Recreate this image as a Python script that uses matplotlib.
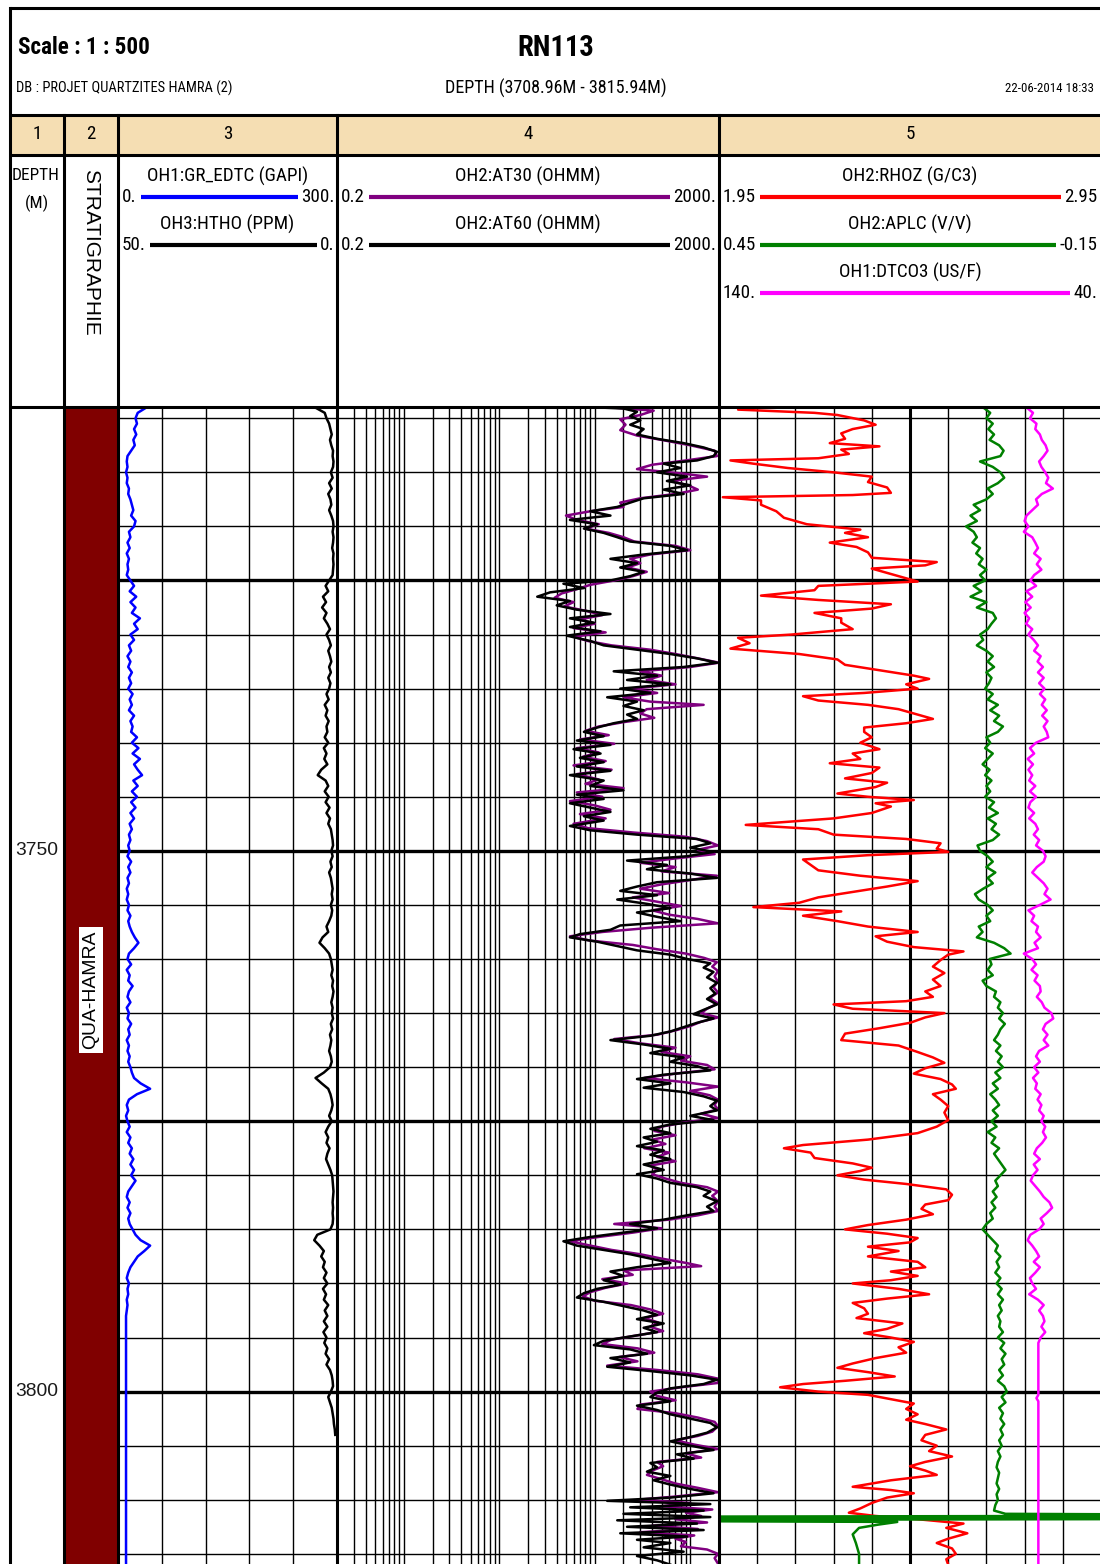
import os
import numpy as np
import matplotlib.pyplot as plt
from matplotlib import font_manager as fm
from matplotlib.font_manager import FontProperties

plt.rcParams['font.family'] = ['Liberation Sans', 'DejaVu Sans']

W, H = 1100, 1564
TOP_MD, BASE_MD = 3708.96, 3815.94
Y_BODY = 407

# GR (GAPI) and HTHO (PPM) every 0.5 m from 3709 m
gr_vals = [
    39, 27, 24, 26, 22, 25, 21, 23, 18, 13,
    12, 13, 11, 13, 12, 15, 14, 17, 19, 21,
    18, 24, 22, 15, 17, 13, 16, 12, 15, 13,
    14, 12, 17, 22, 16, 25, 17, 24, 19, 30,
    22, 27, 17, 22, 15, 18, 13, 17, 14, 19,
    15, 18, 14, 20, 16, 19, 15, 22, 17, 20,
    18, 26, 19, 28, 20, 30, 22, 27, 33, 21,
    27, 19, 26, 18, 24, 17, 22, 16, 19, 15,
    17, 14, 16, 13, 18, 14, 17, 13, 15, 12,
    14, 12, 15, 13, 17, 14, 16, 19, 23, 28,
    22, 15, 13, 18, 12, 16, 14, 20, 15, 13,
    17, 12, 15, 13, 18, 14, 16, 12, 15, 13,
    16, 14, 17, 19, 22, 31, 44, 26, 15, 12,
    14, 11, 13, 16, 12, 17, 14, 19, 16, 21,
    17, 22, 18, 24, 19, 14, 12, 16, 13, 17,
    14, 16, 20, 24, 31, 44, 36, 27, 22, 17,
    14, 12, 15, 13, 14, 12, 13, 12, 11, 11,
]
gr_tail = (3816.0, 11)

htho_vals = [
    5.0, 2.8, 2.4, 1.8, 1.5, 1.2, 1.6, 1.3, 0.9, 1.0,
    0.8, 0.9, 1.4, 1.0, 1.8, 1.2, 2.0, 1.5, 1.3, 1.8,
    1.3, 0.9, 0.8, 1.0, 0.8, 0.9, 1.1, 0.8, 0.9, 0.8,
    0.9, 1.0, 1.8, 2.6, 2.0, 3.2, 2.5, 3.4, 2.4, 3.0,
    2.2, 1.6, 2.4, 1.8, 1.4, 2.0, 1.6, 1.3, 1.8, 1.4,
    2.0, 1.5, 1.8, 2.4, 1.9, 2.8, 2.2, 2.6, 1.9, 2.4,
    2.2, 2.8, 2.0, 3.0, 2.4, 2.9, 2.2, 3.6, 4.4, 2.6,
    2.0, 2.8, 1.9, 2.6, 1.7, 2.4, 1.6, 2.0, 1.4, 1.2,
    1.0, 0.9, 1.3, 1.0, 1.5, 1.2, 1.8, 1.4, 1.2, 1.0,
    1.2, 1.0, 1.4, 1.1, 1.3, 1.8, 2.4, 2.0, 3.3, 4.0,
    2.8, 1.8, 1.4, 1.2, 1.0, 1.3, 0.9, 1.1, 0.8, 1.0,
    1.3, 1.0, 1.2, 0.9, 1.4, 1.1, 1.6, 1.3, 1.5, 1.8,
    1.4, 1.2, 1.6, 3.0, 4.9, 3.5, 2.0, 1.5, 1.2, 1.0,
    1.3, 1.8, 1.2, 2.0, 2.6, 2.0, 2.4, 1.7, 2.2, 2.5,
    2.0, 1.5, 1.1, 1.0, 0.9, 0.8, 0.9, 1.0, 0.9, 1.0,
    0.9, 1.0, 1.5, 4.5, 5.2, 4.0, 3.0, 3.6, 2.8, 3.2,
    2.4, 3.0, 2.2, 3.2, 2.5, 3.0, 2.0, 2.8, 2.2, 3.0,
    2.2, 3.1, 2.4, 2.9, 2.2, 2.6, 1.8, 2.4, 1.6, 1.2,
    1.0, 0.9, 1.4, 2.0, 1.6, 1.2, 1.0, 0.8, 0.7, 0.5,
    0.4,
]

# AT60 / AT30 (OHMM): (depth, value)
at60_log = [
    (3709.0, 106), (3709.1, 200), (3709.4, 277), (3709.8, 235), (3710.2, 300), (3710.6, 235),
    (3711.0, 325), (3711.5, 277), (3711.9, 449), (3712.3, 853), (3712.7, 1381), (3713.1, 1905),
    (3713.5, 1750), (3713.9, 1177), (3714.2, 527), (3714.6, 790), (3715.0, 449), (3715.4, 925),
    (3715.8, 570), (3716.2, 1002), (3716.6, 527), (3717.0, 853), (3717.4, 325), (3717.8, 235),
    (3718.2, 172), (3718.6, 90), (3719.0, 146), (3719.4, 55), (3719.8, 106), (3720.2, 77),
    (3720.6, 124), (3721.0, 172), (3721.4, 235), (3721.8, 619), (3722.2, 925), (3722.6, 325),
    (3723.0, 146), (3723.4, 277), (3723.8, 185), (3724.2, 325), (3724.6, 235), (3725.0, 146),
    (3725.3, 47), (3725.7, 77), (3726.1, 34), (3726.5, 25), (3726.9, 55), (3727.3, 40),
    (3727.7, 65), (3728.1, 146), (3728.5, 55), (3728.9, 98), (3729.3, 55), (3729.7, 115),
    (3730.1, 51), (3730.6, 90), (3731.0, 124), (3731.4, 277), (3731.8, 619), (3732.2, 1177),
    (3732.6, 1905), (3733.0, 853), (3733.4, 158), (3733.8, 449), (3734.2, 218), (3734.6, 619),
    (3735.0, 185), (3735.4, 382), (3735.8, 135), (3736.2, 277), (3736.6, 200), (3737.0, 325),
    (3737.4, 218), (3737.8, 277), (3738.2, 158), (3738.6, 106), (3739.0, 77), (3739.4, 124),
    (3739.8, 65), (3740.2, 146), (3740.6, 60), (3741.0, 115), (3741.4, 70), (3741.8, 124),
    (3742.2, 65), (3742.6, 146), (3743.0, 55), (3743.5, 124), (3744.0, 90), (3744.4, 200),
    (3744.8, 65), (3745.2, 124), (3745.6, 55), (3746.0, 90), (3746.4, 146), (3746.8, 77),
    (3747.2, 124), (3747.7, 55), (3748.1, 90), (3748.5, 277), (3748.9, 1177), (3749.3, 1622),
    (3749.7, 1002), (3750.1, 1750), (3750.5, 925), (3750.9, 218), (3751.3, 570), (3751.7, 352),
    (3752.1, 1002), (3752.5, 1905), (3752.9, 449), (3753.3, 277), (3753.7, 185), (3754.1, 449),
    (3754.5, 172), (3754.9, 352), (3755.3, 619), (3755.7, 277), (3756.1, 449), (3756.5, 790),
    (3756.9, 185), (3757.3, 146), (3757.7, 70), (3758.0, 55), (3758.4, 106), (3758.8, 172),
    (3759.2, 277), (3759.6, 619), (3760.0, 925), (3760.4, 1622), (3760.8, 1381), (3761.2, 1750),
    (3761.7, 1500), (3762.2, 1905), (3762.7, 1622), (3763.2, 1830), (3763.7, 1500), (3764.2, 1905),
    (3764.7, 1381), (3765.1, 1085), (3765.5, 1750), (3765.9, 1177), (3766.3, 853), (3766.7, 619),
    (3767.1, 382), (3767.5, 146), (3767.9, 325), (3768.3, 619), (3768.7, 382), (3769.1, 853),
    (3769.5, 619), (3769.9, 1177), (3770.3, 1622), (3770.7, 527), (3771.1, 277), (3771.5, 619),
    (3771.9, 325), (3772.3, 853), (3772.7, 1381), (3773.1, 1905), (3773.6, 1622), (3774.0, 1905),
    (3774.5, 1002), (3774.9, 1750), (3775.3, 619), (3775.7, 382), (3776.1, 619), (3776.5, 325),
    (3776.9, 449), (3777.3, 277), (3777.7, 527), (3778.1, 382), (3778.5, 619), (3779.0, 325),
    (3779.5, 527), (3779.9, 277), (3780.3, 449), (3780.7, 619), (3781.1, 1177), (3781.5, 1622),
    (3781.9, 1381), (3782.4, 1905), (3782.9, 1500), (3783.3, 1750), (3783.7, 925), (3784.1, 527),
    (3784.5, 235), (3784.9, 449), (3785.3, 200), (3785.7, 90), (3786.1, 47), (3786.5, 65),
    (3786.9, 124), (3787.3, 235), (3787.7, 382), (3788.1, 619), (3788.5, 277), (3788.9, 146),
    (3789.3, 200), (3789.7, 124), (3790.1, 185), (3790.5, 106), (3790.9, 77), (3791.3, 65),
    (3791.7, 124), (3792.1, 200), (3792.5, 325), (3792.9, 449), (3793.3, 277), (3793.7, 527),
    (3794.1, 325), (3794.5, 449), (3794.9, 235), (3795.3, 124), (3795.7, 98), (3796.1, 235),
    (3796.5, 352), (3796.9, 146), (3797.3, 235), (3797.7, 135), (3798.1, 382), (3798.5, 1002),
    (3798.9, 1905), (3799.3, 1381), (3799.7, 619), (3800.1, 449), (3800.5, 382), (3800.9, 619),
    (3801.3, 277), (3801.7, 449), (3802.1, 619), (3802.5, 1002), (3802.9, 1622), (3803.3, 1905),
    (3803.8, 1500), (3804.2, 1002), (3804.6, 619), (3805.0, 1002), (3805.4, 1750), (3805.8, 726),
    (3806.2, 1085), (3806.6, 382), (3807.0, 449), (3807.4, 352), (3807.8, 619), (3808.2, 414),
    (3808.6, 619), (3809.0, 1002), (3809.4, 1750), (3809.8, 619), (3810.1, 135), (3810.4, 1622),
    (3810.7, 235), (3811.0, 1381), (3811.3, 200), (3811.6, 1622), (3811.9, 172), (3812.2, 1177),
    (3812.5, 218), (3812.8, 1381), (3813.1, 185), (3813.4, 925), (3813.7, 277), (3814.0, 619),
    (3814.4, 325), (3814.8, 853), (3815.2, 277), (3815.6, 449), (3816.0, 619),
]

at30_log = [
    (3709.0, 150), (3709.3, 414), (3709.7, 300), (3710.1, 185), (3710.6, 210), (3711.1, 185),
    (3711.6, 277), (3712.0, 500), (3712.5, 1000), (3713.0, 1800), (3713.5, 1900), (3713.9, 900),
    (3714.3, 400), (3714.7, 277), (3715.1, 800), (3715.4, 1500), (3715.8, 620), (3716.2, 950),
    (3716.6, 1200), (3717.0, 700), (3717.4, 300), (3717.8, 185), (3718.2, 200), (3718.6, 90),
    (3719.0, 50), (3719.4, 65), (3719.8, 110), (3720.2, 80), (3720.6, 140), (3721.0, 200),
    (3721.4, 260), (3721.8, 700), (3722.2, 1000), (3722.6, 380), (3723.0, 235), (3723.4, 300),
    (3723.8, 220), (3724.2, 350), (3724.6, 250), (3725.0, 160), (3725.4, 90), (3725.8, 65),
    (3726.2, 45), (3726.6, 38), (3727.0, 60), (3727.4, 48), (3727.8, 80), (3728.2, 120),
    (3728.6, 70), (3729.0, 100), (3729.4, 60), (3729.8, 130), (3730.2, 60), (3730.6, 85),
    (3731.0, 150), (3731.4, 380), (3731.8, 700), (3732.2, 1200), (3732.6, 2000), (3733.0, 1000),
    (3733.4, 300), (3733.8, 500), (3734.2, 350), (3734.6, 700), (3735.0, 250), (3735.4, 450),
    (3735.8, 200), (3736.2, 380), (3736.5, 1380), (3736.9, 350), (3737.3, 300), (3737.7, 420),
    (3738.1, 200), (3738.5, 110), (3738.9, 80), (3739.3, 140), (3739.7, 70), (3740.1, 160),
    (3740.5, 65), (3740.9, 110), (3741.3, 75), (3741.7, 130), (3742.1, 60), (3742.5, 150),
    (3742.9, 65), (3743.4, 110), (3743.8, 80), (3744.2, 200), (3744.6, 65), (3745.0, 120),
    (3745.4, 55), (3745.8, 100), (3746.2, 146), (3746.6, 70), (3747.0, 130), (3747.5, 60),
    (3747.9, 85), (3748.3, 250), (3748.7, 900), (3749.1, 1500), (3749.5, 1950), (3749.9, 1200),
    (3750.3, 1800), (3750.7, 700), (3751.1, 300), (3751.5, 700), (3751.9, 500), (3752.3, 1900),
    (3752.7, 1000), (3753.1, 500), (3753.5, 300), (3753.9, 600), (3754.3, 250), (3754.7, 450),
    (3755.1, 800), (3755.5, 400), (3755.9, 600), (3756.3, 1200), (3756.7, 1950), (3757.1, 400),
    (3757.5, 120), (3757.9, 55), (3758.3, 90), (3758.7, 250), (3759.1, 450), (3759.5, 900),
    (3759.9, 1400), (3760.3, 1900), (3760.7, 1700), (3761.1, 1950), (3761.6, 1800), (3762.1, 1950),
    (3762.6, 1750), (3763.1, 1950), (3763.6, 1600), (3764.1, 1950), (3764.6, 1500), (3765.0, 1300),
    (3765.4, 1950), (3765.8, 1300), (3766.2, 1000), (3766.6, 700), (3767.0, 450), (3767.4, 160),
    (3767.8, 300), (3768.2, 700), (3768.6, 500), (3769.0, 1000), (3769.4, 800), (3769.8, 1500),
    (3770.2, 1800), (3770.6, 700), (3771.0, 330), (3771.4, 900), (3771.8, 1950), (3772.2, 1000),
    (3772.6, 1600), (3773.0, 1950), (3773.5, 1800), (3773.9, 1950), (3774.3, 1300), (3774.7, 1950),
    (3775.1, 900), (3775.5, 500), (3775.9, 420), (3776.3, 700), (3776.7, 400), (3777.1, 550),
    (3777.5, 330), (3777.9, 600), (3778.3, 450), (3778.7, 700), (3779.1, 380), (3779.5, 450),
    (3779.9, 400), (3780.3, 550), (3780.7, 800), (3781.1, 1500), (3781.5, 1950), (3781.9, 1700),
    (3782.4, 1950), (3782.9, 1800), (3783.3, 1950), (3783.7, 1200), (3784.1, 600), (3784.5, 160),
    (3784.9, 500), (3785.3, 250), (3785.7, 110), (3786.1, 55), (3786.5, 90), (3786.9, 150),
    (3787.3, 300), (3787.7, 500), (3788.1, 900), (3788.4, 1300), (3788.8, 200), (3789.2, 250),
    (3789.6, 120), (3790.0, 220), (3790.4, 130), (3790.8, 90), (3791.2, 75), (3791.6, 100),
    (3792.0, 240), (3792.4, 380), (3792.8, 520), (3793.2, 330), (3793.6, 460), (3794.0, 380),
    (3794.4, 520), (3794.8, 280), (3795.2, 150), (3795.6, 120), (3796.0, 280), (3796.4, 420),
    (3796.8, 180), (3797.2, 280), (3797.6, 135), (3798.0, 450), (3798.4, 1200), (3798.8, 1950),
    (3799.2, 1950), (3799.6, 800), (3800.0, 382), (3800.4, 450), (3800.8, 700), (3801.2, 300),
    (3801.6, 280), (3802.0, 700), (3802.4, 1200), (3802.8, 1800), (3803.2, 1950), (3803.7, 1700),
    (3804.1, 1200), (3804.5, 700), (3804.9, 1100), (3805.3, 1950), (3805.7, 900), (3806.1, 1300),
    (3806.5, 450), (3806.9, 520), (3807.3, 400), (3807.7, 352), (3808.1, 500), (3808.5, 700),
    (3808.9, 1200), (3809.3, 1950), (3809.7, 700), (3810.0, 280), (3810.3, 1000), (3810.6, 500),
    (3810.9, 1700), (3811.2, 900), (3811.5, 1300), (3811.8, 700), (3812.1, 1500), (3812.4, 400),
    (3812.7, 1200), (3813.0, 300), (3813.3, 1100), (3813.6, 700), (3813.9, 900), (3814.3, 800),
    (3814.6, 1500), (3815.0, 1950), (3815.4, 1800), (3815.9, 1950),
]

# RHOZ (G/C3): (depth, value)
rhoz_log = [
    (3709.0, 2.04), (3709.2, 2.00), (3709.35, 2.10), (3709.5, 2.20), (3709.7, 2.26), (3710.2, 2.33),
    (3710.6, 2.36), (3711.0, 2.30), (3711.4, 2.27), (3711.9, 2.28), (3712.3, 2.24), (3712.6, 2.37),
    (3712.9, 2.27), (3713.3, 2.29), (3713.7, 2.21), (3713.9, 1.98), (3714.2, 2.04), (3714.6, 2.13),
    (3715.0, 2.25), (3715.4, 2.35), (3715.9, 2.34), (3716.4, 2.39), (3716.9, 2.40), (3717.1, 2.30),
    (3717.3, 1.96), (3717.6, 2.06), (3718.0, 2.06), (3718.6, 2.10), (3719.2, 2.12), (3719.8, 2.18),
    (3720.3, 2.32), (3720.6, 2.28), (3721.0, 2.34), (3721.5, 2.24), (3721.9, 2.31), (3722.4, 2.34),
    (3722.9, 2.35), (3723.3, 2.52), (3723.6, 2.49), (3723.9, 2.35), (3724.3, 2.39), (3724.8, 2.44),
    (3725.1, 2.47), (3725.5, 2.21), (3725.9, 2.20), (3726.4, 2.06), (3726.8, 2.21), (3727.2, 2.40),
    (3727.6, 2.35), (3728.0, 2.20), (3728.5, 2.27), (3728.9, 2.27), (3729.5, 2.30), (3730.0, 2.14),
    (3730.3, 2.00), (3730.8, 2.03), (3731.3, 1.98), (3731.8, 2.16), (3732.3, 2.26), (3732.8, 2.28),
    (3733.3, 2.37), (3733.8, 2.46), (3734.1, 2.50), (3734.6, 2.44), (3735.0, 2.47), (3735.4, 2.33),
    (3735.7, 2.17), (3736.1, 2.21), (3736.5, 2.34), (3736.9, 2.42), (3737.4, 2.47), (3737.8, 2.51),
    (3738.2, 2.44), (3738.6, 2.33), (3739.0, 2.33), (3739.5, 2.35), (3740.0, 2.32), (3740.6, 2.37),
    (3741.0, 2.30), (3741.5, 2.32), (3741.9, 2.24), (3742.3, 2.37), (3742.8, 2.35), (3743.3, 2.28),
    (3743.7, 2.39), (3744.1, 2.36), (3744.7, 2.26), (3745.0, 2.34), (3745.3, 2.46), (3745.6, 2.36),
    (3745.9, 2.40), (3746.5, 2.35), (3747.0, 2.25), (3747.6, 2.02), (3748.0, 2.21), (3748.5, 2.25),
    (3748.9, 2.44), (3749.3, 2.53), (3749.8, 2.52), (3750.1, 2.55), (3750.4, 2.34), (3750.8, 2.17),
    (3751.3, 2.19), (3751.8, 2.21), (3752.3, 2.32), (3752.8, 2.47), (3753.3, 2.39), (3753.8, 2.30),
    (3754.3, 2.21), (3754.8, 2.16), (3755.2, 2.04), (3755.6, 2.27), (3756.0, 2.17), (3756.5, 2.26),
    (3757.0, 2.34), (3757.5, 2.47), (3757.9, 2.36), (3758.4, 2.39), (3758.9, 2.46), (3759.3, 2.59),
    (3759.6, 2.55), (3760.1, 2.53), (3760.7, 2.51), (3761.3, 2.54), (3761.9, 2.51), (3762.5, 2.53),
    (3763.0, 2.49), (3763.5, 2.51), (3763.9, 2.44), (3764.2, 2.25), (3764.6, 2.30), (3765.0, 2.54),
    (3765.4, 2.49), (3765.9, 2.45), (3766.4, 2.37), (3766.9, 2.28), (3767.5, 2.27), (3768.0, 2.42),
    (3768.6, 2.47), (3769.1, 2.51), (3769.6, 2.54), (3770.1, 2.49), (3770.6, 2.46), (3771.1, 2.53),
    (3771.6, 2.56), (3772.0, 2.57), (3772.5, 2.51), (3773.0, 2.53), (3773.6, 2.55), (3774.2, 2.54),
    (3774.9, 2.55), (3775.5, 2.52), (3776.1, 2.47), (3776.7, 2.34), (3777.2, 2.17), (3777.5, 2.12),
    (3777.9, 2.19), (3778.4, 2.20), (3778.9, 2.30), (3779.3, 2.35), (3779.6, 2.32), (3780.0, 2.26),
    (3780.4, 2.33), (3780.8, 2.44), (3781.3, 2.545), (3781.8, 2.56), (3782.3, 2.55), (3782.7, 2.49),
    (3783.1, 2.48), (3783.6, 2.51), (3784.1, 2.44), (3784.6, 2.34), (3785.0, 2.28), (3785.4, 2.39),
    (3785.8, 2.47), (3786.2, 2.45), (3786.6, 2.34), (3787.0, 2.42), (3787.5, 2.34), (3788.0, 2.47),
    (3788.5, 2.49), (3788.9, 2.40), (3789.3, 2.47), (3789.7, 2.40), (3790.0, 2.30), (3790.5, 2.42),
    (3791.0, 2.50), (3791.4, 2.39), (3791.8, 2.30), (3792.3, 2.33), (3792.8, 2.34), (3793.2, 2.31),
    (3793.7, 2.43), (3794.2, 2.39), (3794.6, 2.33), (3795.0, 2.40), (3795.4, 2.46), (3795.9, 2.42),
    (3796.4, 2.44), (3796.9, 2.36), (3797.4, 2.30), (3797.8, 2.26), (3798.2, 2.34), (3798.6, 2.41),
    (3799.0, 2.28), (3799.3, 2.17), (3799.6, 2.11), (3800.0, 2.21), (3800.3, 2.34), (3800.7, 2.40),
    (3801.1, 2.46), (3801.6, 2.44), (3802.1, 2.47), (3802.6, 2.44), (3803.0, 2.49), (3803.5, 2.545),
    (3804.0, 2.49), (3804.5, 2.48), (3805.0, 2.52), (3805.5, 2.50), (3806.0, 2.56), (3806.5, 2.49),
    (3806.9, 2.45), (3807.3, 2.49), (3807.7, 2.52), (3808.2, 2.40), (3808.8, 2.30), (3809.1, 2.40),
    (3809.4, 2.46), (3809.8, 2.39), (3810.3, 2.35), (3810.8, 2.32), (3811.2, 2.29), (3811.5, 2.36),
    (3811.8, 2.47), (3812.2, 2.59), (3812.6, 2.545), (3813.1, 2.60), (3813.6, 2.55), (3814.0, 2.52),
    (3814.5, 2.56), (3815.0, 2.57), (3815.5, 2.545), (3816.0, 2.55),
]

# APLC (V/V) every 0.5 m from 3709 m, then the spike at the base
aplc_vals = [
    0.035, 0.024, 0.030, 0.020, 0.027, 0.018, 0.025, 0.010, 0.003, 0.008,
    0.040, 0.020, 0.008, 0.002, 0.012, 0.028, 0.020, 0.030, 0.050, 0.040,
    0.055, 0.045, 0.062, 0.050, 0.045, 0.052, 0.040, 0.046, 0.036, 0.042,
    0.030, 0.040, 0.032, 0.050, 0.038, 0.055, 0.030, 0.045, 0.020, 0.015,
    0.022, 0.028, 0.040, 0.035, 0.045, 0.030, 0.020, 0.028, 0.018, 0.030,
    0.022, 0.026, 0.032, 0.020, 0.028, 0.012, 0.024, 0.010, 0.018, 0.004,
    0.012, 0.030, 0.024, 0.032, 0.020, 0.028, 0.036, 0.025, 0.032, 0.022,
    0.030, 0.024, 0.032, 0.018, 0.026, 0.012, 0.028, 0.015, 0.022, 0.010,
    0.020, 0.044, 0.040, 0.028, 0.020, 0.030, 0.016, 0.028, 0.020, 0.035,
    0.048, 0.042, 0.028, 0.020, 0.030, 0.024, 0.042, 0.036, 0.045, 0.018,
    0.002, -0.008, 0.025, 0.022, 0.028, 0.020, 0.036, 0.030, 0.015, 0.018,
    0.008, 0.012, 0.004, 0.010, 0.001, 0.008, 0.012, 0.018, 0.008, 0.015,
    0.006, 0.012, 0.004, 0.016, 0.008, 0.020, 0.012, 0.024, 0.016, 0.010,
    0.020, 0.012, 0.022, 0.014, 0.028, 0.016, 0.022, 0.010, 0.018, 0.012,
    0.006, 0.000, 0.008, 0.016, 0.012, 0.020, 0.014, 0.022, 0.016, 0.024,
    0.020, 0.030, 0.036, 0.028, 0.020, 0.012, 0.016, 0.008, 0.014, 0.010,
    0.016, 0.008, 0.014, 0.006, 0.012, 0.004, 0.010, 0.006, 0.012, 0.008,
    0.010, 0.004, 0.012, 0.002, 0.008, 0.000, 0.006, 0.002, 0.010, 0.004,
    0.012, 0.002, -0.002, 0.006, 0.000, 0.010, 0.004, 0.008, 0.002, 0.008,
    0.004, 0.010, 0.006, 0.012, 0.008, 0.012, 0.014, 0.010, 0.012, 0.014,
    0.010, 0.014, 0.012, 0.016, 0.018,
]
aplc_tail = [
    (3811.3, 0.0), (3811.45, -0.6), (3811.6, 0.9), (3811.75, -0.6), (3811.9, 0.9),
    (3812.05, 0.17), (3812.3, 0.20), (3812.6, 0.23), (3813.2, 0.24), (3814.0, 0.235),
    (3815.0, 0.23), (3816.0, 0.23),
]

# DTCO3 (US/F) every 0.5 m from 3709 m, constant below
dt_vals = [
    59.5, 57.8, 58.6, 56.9, 57.2, 56.0, 55.5, 54.5, 54.0, 55.0,
    56.2, 55.6, 54.6, 53.8, 54.4, 52.6, 55.5, 57.0, 56.5, 58.0,
    59.5, 60.0, 59.0, 60.2, 58.0, 57.2, 56.5, 57.5, 55.8, 56.8,
    55.6, 57.5, 58.5, 57.0, 59.5, 58.0, 59.8, 58.4, 60.0, 58.8,
    59.6, 58.0, 59.0, 57.6, 56.5, 57.5, 55.8, 56.6, 55.2, 56.5,
    55.0, 56.2, 54.8, 56.0, 54.6, 55.5, 54.2, 55.4, 54.0, 55.0,
    54.2, 53.8, 57.0, 58.6, 57.5, 59.2, 57.8, 59.0, 58.0, 58.8,
    57.2, 58.6, 57.0, 58.5, 59.0, 57.5, 58.8, 57.2, 56.5, 57.6,
    56.2, 57.0, 55.2, 54.5, 55.0, 56.8, 58.0, 56.5, 55.0, 54.0,
    54.8, 53.2, 56.0, 59.0, 57.5, 58.2, 56.5, 57.0, 55.8, 57.4,
    56.5, 60.2, 58.0, 57.0, 58.2, 56.6, 57.4, 56.0, 55.8, 56.8,
    55.5, 54.8, 53.0, 52.5, 54.5, 55.2, 54.0, 55.0, 53.8, 56.2,
    57.0, 56.0, 57.5, 56.4, 57.8, 56.8, 57.2, 55.8, 56.6, 55.6,
    56.2, 55.0, 55.6, 54.6, 55.2, 54.4, 55.4, 56.8, 57.5, 56.0,
    57.6, 56.6, 57.8, 58.4, 57.2, 56.0, 55.0, 53.5, 52.8, 54.2,
    55.8, 55.0, 56.2, 58.5, 59.2, 58.0, 57.0, 56.2, 57.6, 56.0,
    57.2, 58.6, 58.0, 57.0, 58.8, 56.5, 55.0, 56.2, 55.2, 54.8,
    55.6, 54.6, 55.8, 56.4,
]
dt_tail = [(3800.3, 56.4), (3800.6, 56.9), (3800.9, 56.4), (3816.0, 56.4)]

strat_tops = [3708.96]
strat_bases = [3815.94]
strat_names = ['QUA-HAMRA']
depth_labels = [3750, 3800]


# ---------------- fonts ----------------
def condensed_file(bold):
    skip = ('italic', 'oblique', 'light', 'thin', 'medium', 'black', 'semibold',
            'extrabold', 'semicondensed', 'extracondensed', 'ultracondensed', 'mono', 'serif')
    prefixes = ('liberationsansnarrow', 'arialnarrow', 'robotocondensed',
                'notosans-condensed', 'dejavusanscondensed')
    best = None
    for f in fm.fontManager.ttflist:
        b = os.path.basename(f.fname).lower()
        if any(k in b for k in skip) or (('bold' in b) != bold):
            continue
        for rank, p in enumerate(prefixes):
            if b.startswith(p) and (best is None or rank < best[0]):
                best = (rank, f.fname)
    return best[1] if best else None


_reg, _bold = condensed_file(False), condensed_file(True)
FP_N = FontProperties(fname=_reg) if _reg else FontProperties(family=['Liberation Sans', 'DejaVu Sans'])
FP_NB = (FontProperties(fname=_bold) if _bold
         else FontProperties(family=['Liberation Sans', 'DejaVu Sans'], weight='bold'))
FP_R = FontProperties(family=['Liberation Sans', 'DejaVu Sans'])

# ---------------- figure ----------------
fig = plt.figure(figsize=(W / 100, H / 100), dpi=100)
renderer = fig.canvas.get_renderer()


def px_rect(x0, x1, y0=Y_BODY, y1=H):
    return [x0 / W, 1 - y1 / H, (x1 - x0) / W, (y1 - y0) / H]


def track(x0, x1, share=None):
    ax = fig.add_axes(px_rect(x0, x1), sharey=share)
    ax.set_ylim(BASE_MD, TOP_MD)
    ax.set_facecolor('none')
    ax.tick_params(which='both', left=False, bottom=False, labelleft=False, labelbottom=False)
    for s in ax.spines.values():
        s.set_visible(False)
    return ax


def depth_grid(ax):
    for d in range(3710, 3816, 5):
        ax.axhline(d, color='black', lw=2.4 if d % 25 == 0 else 1.0, zorder=1)


def half_step(vals, start=3709.0):
    return start + 0.5 * np.arange(len(vals))


def fit_text(ax, x, y, s, length_px, fp, vertical=False, **kw):
    """Text sized so that its run length matches the reference (in pixels)."""
    t = ax.text(x, y, s, fontproperties=fp, **kw)
    t.set_fontsize(10)
    bb = t.get_window_extent(renderer)
    t.set_fontsize(10 * length_px / (bb.height if vertical else bb.width))
    return t


CURVE_LW = 1.8

# track 1 : depth
ax_md = track(10, 64)
for d in depth_labels:
    fit_text(ax_md, 0.5, d, str(d), 43, FP_R, transform=ax_md.get_yaxis_transform(),
             ha='center', va='center', color='#1a1a1a')

# track 2 : stratigraphy
ax_st = track(64, 118)
ax_st.set_xlim(0, 1)
for t, b, name in zip(strat_tops, strat_bases, strat_names):
    ax_st.fill_betweenx([t, b], 0, 1, color='#800000', lw=0)
    fit_text(ax_st, 0.5, (t + b) / 2 + 0.4, name, 118, FP_R, vertical=True,
             rotation=90, ha='center', va='center', color='black',
             bbox=dict(facecolor='white', edgecolor='none', pad=2))

# track 3 : GR / HTHO
ax_gr = track(118, 337)
ax_gr.set_xlim(0, 300)
depth_grid(ax_gr)
for v in np.linspace(0, 300, 6)[1:-1]:
    ax_gr.axvline(v, color='black', lw=1.0, zorder=1)
gr_md = np.append(half_step(gr_vals), gr_tail[0])
ax_gr.plot(gr_vals + [gr_tail[1]], gr_md, color='#0000ff', lw=CURVE_LW, zorder=3)
ax_th = track(118, 337, share=ax_gr)
ax_th.set_xlim(50, 0)
ax_th.plot(htho_vals, half_step(htho_vals), color='black', lw=CURVE_LW, zorder=3)

# track 4 : resistivity (log)
ax_rs = track(337, 719)
ax_rs.set_xscale('log')
ax_rs.set_xlim(0.2, 2000)
ax_rs.tick_params(which='both', left=False, bottom=False, labelbottom=False)
depth_grid(ax_rs)
for dec in [0.1, 1, 10, 100, 1000]:
    for m in range(1, 10):
        v = m * dec
        if 0.2 < v < 2000:
            ax_rs.axvline(v, color='black', lw=1.0, zorder=1)
md30, r30 = zip(*at30_log)
md60, r60 = zip(*at60_log)
ax_rs.plot(r30, md30, color='#800080', lw=CURVE_LW, zorder=3)
ax_rs.plot(r60, md60, color='black', lw=CURVE_LW, zorder=4)

# track 5 : density / APLC / sonic
ax_dn = track(719, 1101)
ax_dn.set_xlim(1.95, 2.95)
depth_grid(ax_dn)
for i in range(1, 10):
    ax_dn.axvline(1.95 + 0.1 * i, color='black', lw=2.2 if i == 5 else 1.0, zorder=1)
mdr, rho = zip(*rhoz_log)
ax_dn.plot(rho, mdr, color='#ff0000', lw=CURVE_LW, zorder=3)

ax_ap = track(719, 1101, share=ax_dn)
ax_ap.set_xlim(0.45, -0.15)
mda, apt = zip(*aplc_tail)
ax_ap.plot(aplc_vals + list(apt), np.concatenate([half_step(aplc_vals), mda]),
           color='#008000', lw=CURVE_LW, zorder=3)

ax_dt = track(719, 1101, share=ax_dn)
ax_dt.set_xlim(140, 40)
mdt, dtt = zip(*dt_tail)
ax_dt.plot(dt_vals + list(dtt), np.concatenate([half_step(dt_vals), mdt]),
           color='#ff00ff', lw=CURVE_LW, zorder=3)

# ---------------- header / frame overlay ----------------
ov = fig.add_axes([0, 0, 1, 1], zorder=20)
ov.set_xlim(0, W)
ov.set_ylim(H, 0)
ov.axis('off')
ov.set_facecolor('none')

ov.fill_between([10, W], 115, 155, color='#f5deb3', lw=0, zorder=0)
for y in [8, 115, 155, Y_BODY]:
    ov.plot([10, W], [y, y], color='black', lw=2.2, solid_capstyle='butt')
ov.plot([10, 10], [8, H], color='black', lw=2.2)
for x in [64, 118, 337, 719]:
    ov.plot([x, x], [115, H], color='black', lw=2.2)

fit_text(ov, 18, 48, 'Scale : 1 : 500', 132, FP_NB, ha='left', va='center')
fit_text(ov, 556, 48, 'RN113', 77, FP_NB, ha='center', va='center')
fit_text(ov, 16, 88, 'DB : PROJET QUARTZITES HAMRA (2)', 217, FP_N, ha='left', va='center')
fit_text(ov, 556, 88, 'DEPTH (3708.96M - 3815.94M)', 223, FP_N, ha='center', va='center')
fit_text(ov, 1094, 88, '22-06-2014 18:33', 88, FP_N, ha='right', va='center')

t_depth = fit_text(ov, 36, 176, 'DEPTH', 48, FP_N, ha='center', va='center')
lab_size = t_depth.get_fontsize()
ov.text(37, 203, '(M)', fontproperties=FP_N, fontsize=lab_size, ha='center', va='center')
for num, xc in zip(['1', '2', '3', '4', '5'], [37, 91, 228, 528, 910]):
    ov.text(xc, 134, num, fontproperties=FP_N, fontsize=lab_size * 1.1,
            ha='center', va='center')
fit_text(ov, 91, 252, 'STRATIGRAPHIE', 167, FP_R, vertical=True, rotation=-90,
         ha='center', va='center')

headers = [
    # (title, left label, right label, colour, x0, x1, row)
    ('OH1:GR_EDTC (GAPI)', '0.', '300.', '#0000ff', 118, 337, 0),
    ('OH3:HTHO (PPM)', '50.', '0.', 'black', 118, 337, 1),
    ('OH2:AT30 (OHMM)', '0.2', '2000.', '#800080', 337, 719, 0),
    ('OH2:AT60 (OHMM)', '0.2', '2000.', 'black', 337, 719, 1),
    ('OH2:RHOZ (G/C3)', '1.95', '2.95', '#ff0000', 719, 1101, 0),
    ('OH2:APLC (V/V)', '0.45', '-0.15', '#008000', 719, 1101, 1),
    ('OH1:DTCO3 (US/F)', '140.', '40.', '#ff00ff', 719, 1101, 2),
]
probe = fit_text(ov, 0, -100, 'OH1:GR_EDTC (GAPI)', 161, FP_N)
title_size = probe.get_fontsize()
probe.remove()
probe = fit_text(ov, 0, -100, '2000.', 42, FP_N)
scale_size = probe.get_fontsize()
probe.remove()

inv = ov.transData.inverted()
for title, lo, hi, col, x0, x1, row in headers:
    yt = 176 + 48 * row
    yl = yt + 21
    ov.text((x0 + x1) / 2, yt, title, fontproperties=FP_N, fontsize=title_size,
            ha='center', va='center')
    t1 = ov.text(x0 + 4, yl, lo, fontproperties=FP_N, fontsize=scale_size,
                 ha='left', va='center')
    t2 = ov.text(min(x1, W) - 3, yl, hi, fontproperties=FP_N, fontsize=scale_size,
                 ha='right', va='center')
    bl = inv.transform(t1.get_window_extent(renderer).corners()[2])[0]
    br = inv.transform(t2.get_window_extent(renderer).corners()[0])[0]
    ov.plot([bl + 4, br - 3], [yl, yl], color=col, lw=3, solid_capstyle='butt')

fig.savefig('out.png', dpi=100)
